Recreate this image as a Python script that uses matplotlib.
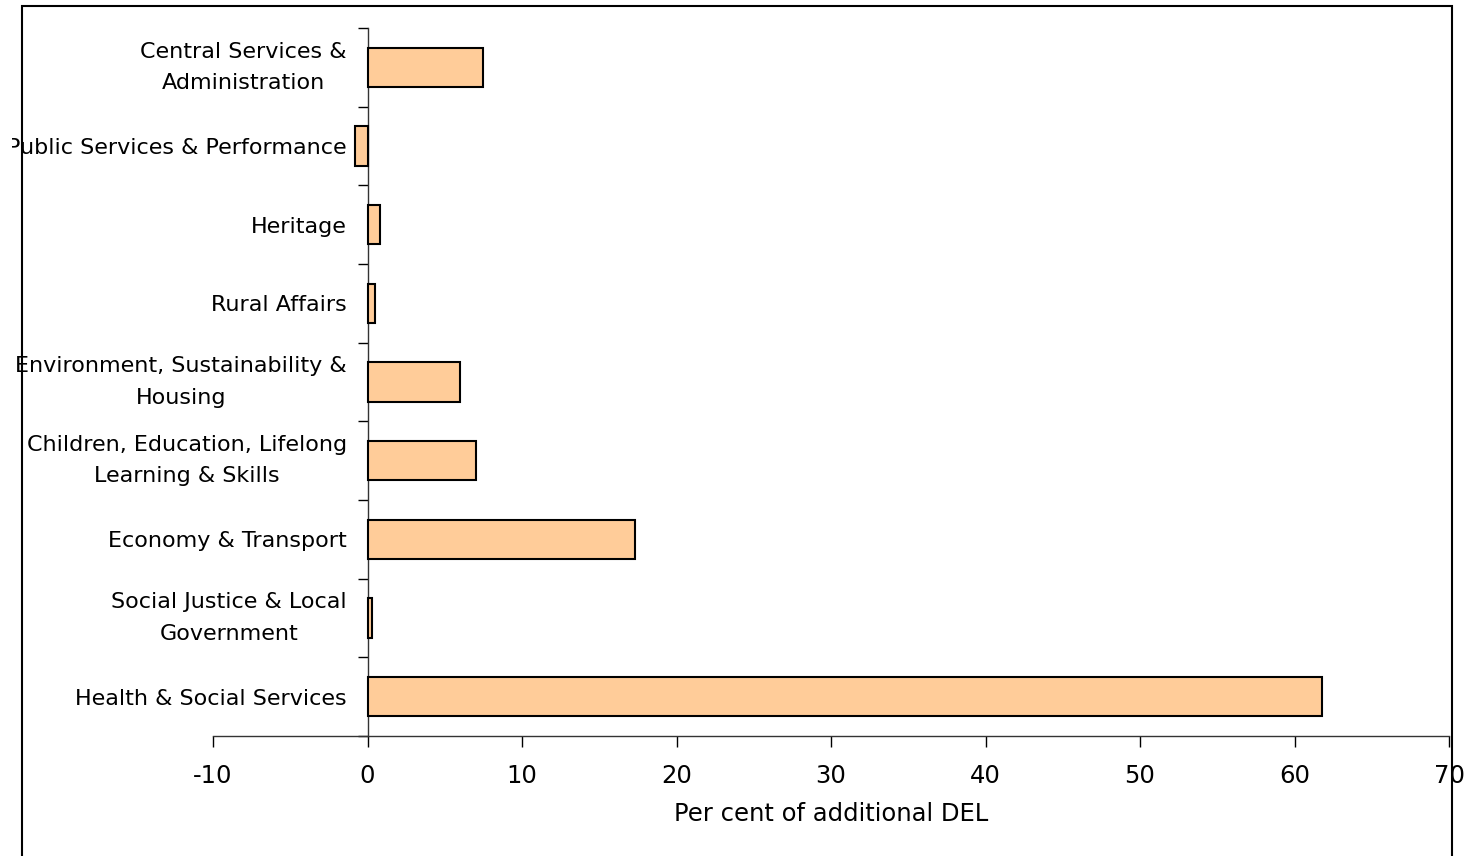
import matplotlib.pyplot as plt
import numpy as np
from matplotlib.patches import Rectangle
from matplotlib.transforms import Bbox, TransformedBbox

# share of additional DEL by portfolio, listed top to bottom
portfolios = ['Central Services &\nAdministration',
              'Public Services & Performance',
              'Heritage',
              'Rural Affairs',
              'Environment, Sustainability &\nHousing',
              'Children, Education, Lifelong\nLearning & Skills',
              'Economy & Transport',
              'Social Justice & Local\nGovernment',
              'Health & Social Services']
share = [7.5, -0.8, 0.8, 0.5, 6.0, 7.0, 17.3, 0.3, 61.8]
xticks = [-10, 0, 10, 20, 30, 40, 50, 60, 70]

plt.rcParams['font.family'] = 'DejaVu Sans'

fig = plt.figure(figsize=(14.68, 8.56), dpi=100)
ax = fig.add_axes([0.1451, 0.1402, 0.8420, 0.8271])

pos = np.arange(len(portfolios))
ax.barh(pos, share, height=0.5, color='#FFCC99', edgecolor='black', linewidth=1.5, zorder=3)

ax.set_xlim(-10, 70)
ax.set_ylim(len(portfolios) - 0.5, -0.5)
ax.set_xticks(xticks)
ax.set_xticklabels([str(v) for v in xticks])
ax.set_xlabel('Per cent of additional DEL', fontsize=17.5, labelpad=10)

# tick marks at category boundaries, labels at bar centres
ax.set_yticks(np.arange(len(portfolios) + 1) - 0.5, minor=True)
ax.set_yticks(pos)
ax.tick_params(axis='y', which='major', length=0, pad=15, labelsize=16)
ax.tick_params(axis='y', which='minor', length=7, width=1, direction='out')
ax.tick_params(axis='x', length=8, width=1, direction='out', pad=12, labelsize=17.5)
ax.set_yticklabels(portfolios)

ax.spines['left'].set_position(('data', 0))
ax.spines['top'].set_visible(False)
ax.spines['right'].set_visible(False)
for s in ('left', 'bottom'):
    ax.spines[s].set_color('#333333')
    ax.spines[s].set_linewidth(1)

# long labels get cut off at the left edge
clip = TransformedBbox(Bbox([[12 / 1468, 0], [1, 1]]), fig.transFigure)
for lbl in ax.get_yticklabels():
    if '\n' in lbl.get_text():
        lbl.set_multialignment('center')
        lbl.set_linespacing(1.7)
        lbl.set_verticalalignment('center')
    lbl.set_clip_box(clip)
    lbl.set_clip_on(True)

# chart border
fig.patches.append(Rectangle((22 / 1468, -0.05), 1430 / 1468, 1.05 - 6 / 856,
                             transform=fig.transFigure, fill=False,
                             edgecolor='black', linewidth=1.5))

fig.savefig('out.png', dpi=100)
